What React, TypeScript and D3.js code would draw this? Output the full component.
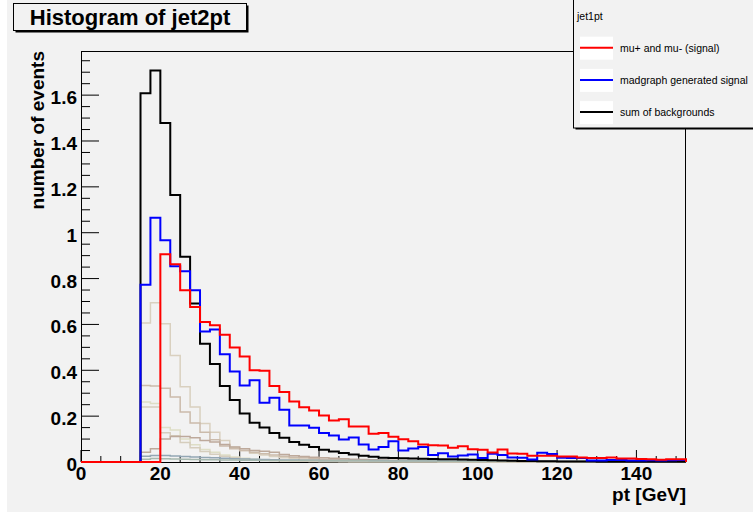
import React from "react";
import * as d3 from "d3";

// ---- data (bins of 2.5 GeV starting at 0 GeV) ----
const binWidth = 2.5;
const xMax = 152.5;
const yMax = 1.7925;

const xTickLabels = ["0", "20", "40", "60", "80", "100", "120", "140"];
const xTickValues = [0, 20, 40, 60, 80, 100, 120, 140];
const yTickLabels = ["0", "0.2", "0.4", "0.6", "0.8", "1", "1.2", "1.4", "1.6"];
const yTickValues = [0, 0.2, 0.4, 0.6, 0.8, 1.0, 1.2, 1.4, 1.6];

const redSignal = [
  0, 0, 0, 0, 0, 0, 0, 0, 0.906, 0.862, 0.749, 0.676, 0.611, 0.596, 0.555, 0.499,
  0.46, 0.4, 0.398, 0.331, 0.305, 0.264, 0.239, 0.225, 0.203, 0.181, 0.186, 0.155,
  0.155, 0.123, 0.126, 0.11, 0.099, 0.091, 0.076, 0.073, 0.072, 0.062, 0.069, 0.056,
  0.053, 0.041, 0.055, 0.037, 0.036, 0.027, 0.027, 0.027, 0.024, 0.024, 0.02, 0.017,
  0.017, 0.02, 0.015, 0.015, 0.013, 0.012, 0.01, 0.012, 0.012,
];

const blueMadgraph = [
  0, 0, 0, 0, 0, 0, 0.773, 1.065, 0.967, 0.854, 0.832, 0.749, 0.569, 0.578, 0.47, 0.395,
  0.334, 0.356, 0.258, 0.28, 0.228, 0.159, 0.159, 0.149, 0.127, 0.116, 0.098, 0.107,
  0.076, 0.055, 0.065, 0.091, 0.05, 0.059, 0.065, 0.031, 0.038, 0.024, 0.028, 0.033,
  0.017, 0.036, 0.031, 0.02, 0.019, 0.011, 0.04, 0.035, 0.019, 0.017, 0.017, 0.007,
  0.007, 0.009, 0.009, 0.006, 0.006, 0.008, 0.006, 0.008, 0.009,
];

const blackBackground = [
  0, 0, 0, 0, 0, 0, 1.608, 1.707, 1.478, 1.164, 0.895, 0.691, 0.516, 0.427, 0.331, 0.27,
  0.212, 0.171, 0.151, 0.126, 0.106, 0.087, 0.075, 0.065, 0.053, 0.046, 0.039, 0.033,
  0.027, 0.023, 0.019, 0.017, 0.016, 0.015, 0.014, 0.013, 0.012, 0.012, 0.011, 0.01,
  0.009, 0.008, 0.006, 0.005, 0.004, 0.004, 0.003, 0.003, 0.002, 0.002, 0.002, 0.002,
  0.001, 0.001, 0.001, 0.001, 0.001, 0.001, 0.001, 0.001, 0.001,
];

const bgA = [
  0, 0, 0, 0, 0, 0, 0.606, 0.695, 0.603, 0.465, 0.328, 0.24, 0.168, 0.13, 0.094, 0.064,
  0.05, 0.038, 0.03, 0.024, 0.019, 0.015, 0.012, 0.01, 0.008, 0.007, 0.006, 0.005,
  0.004, 0.003, 0.003, 0.003, 0.002, 0.002, 0.002, 0.002, 0.001, 0.001, 0.001, 0.001,
  0.001, 0.001, 0.001, 0.001, 0.001, 0.001, 0.001, 0.001, 0.001, 0.001, 0.001, 0.001,
  0.001, 0.001, 0.001, 0.001, 0.001, 0.001, 0.001, 0.001, 0.001,
];

const bgB = [
  0, 0, 0, 0, 0, 0, 0.334, 0.331, 0.322, 0.283, 0.218, 0.17, 0.13, 0.097, 0.07, 0.058,
  0.05, 0.043, 0.036, 0.03, 0.025, 0.021, 0.018, 0.015, 0.012, 0.01, 0.009, 0.008,
  0.007, 0.006, 0.005, 0.004, 0.004, 0.003, 0.003, 0.003, 0.002, 0.002, 0.002, 0.002,
  0.002, 0.001, 0.001, 0.001, 0.001, 0.001, 0.001, 0.001, 0.001, 0.001, 0.001, 0.001,
  0.001, 0.001, 0.001, 0.001, 0.001, 0.001, 0.001, 0.001, 0.001,
];

const bgC = [
  0, 0, 0, 0, 0, 0, 0.262, 0.255, 0.15, 0.14, 0.1, 0.075, 0.055, 0.042, 0.03, 0.022,
  0.016, 0.012, 0.009, 0.007, 0.005, 0.004, 0.003, 0.003, 0.002, 0.002, 0.002, 0.001,
  0.001, 0.001, 0.001, 0.001, 0.001, 0.001, 0.001, 0.001, 0.001, 0.001, 0.001, 0.001,
  0.001, 0.001, 0.001, 0.001, 0.001, 0.001, 0.001, 0.001, 0.001, 0.001, 0.001, 0.001,
  0.001, 0.001, 0.001, 0.001, 0.001, 0.001, 0.001, 0.001, 0.001,
];

const bgD = [
  0, 0, 0, 0, 0, 0, 0.24, 0.24, 0.128, 0.115, 0.085, 0.062, 0.046, 0.034, 0.025, 0.018,
  0.013, 0.01, 0.008, 0.006, 0.005, 0.004, 0.003, 0.002, 0.002, 0.002, 0.001, 0.001,
  0.001, 0.001, 0.001, 0.001, 0.001, 0.001, 0.001, 0.001, 0.001, 0.001, 0.001, 0.001,
  0.001, 0.001, 0.001, 0.001, 0.001, 0.001, 0.001, 0.001, 0.001, 0.001, 0.001, 0.001,
  0.001, 0.001, 0.001, 0.001, 0.001, 0.001, 0.001, 0.001, 0.001,
];

const bgE = [
  0, 0, 0, 0, 0, 0, 0.043, 0.058, 0.1, 0.111, 0.111, 0.106, 0.094, 0.087, 0.076, 0.065,
  0.058, 0.05, 0.047, 0.043, 0.033, 0.027, 0.024, 0.021, 0.018, 0.016, 0.014, 0.012,
  0.011, 0.01, 0.009, 0.008, 0.007, 0.006, 0.006, 0.005, 0.005, 0.004, 0.004, 0.004,
  0.003, 0.003, 0.003, 0.003, 0.002, 0.002, 0.002, 0.002, 0.002, 0.002, 0.002, 0.001,
  0.001, 0.001, 0.001, 0.001, 0.001, 0.001, 0.001, 0.001, 0.001,
];

const bgF = [
  0, 0, 0, 0, 0, 0, 0.025, 0.028, 0.028, 0.026, 0.024, 0.022, 0.02, 0.018, 0.016, 0.014,
  0.013, 0.012, 0.011, 0.01, 0.009, 0.009, 0.008, 0.008, 0.007, 0.007, 0.007, 0.006,
  0.006, 0.006, 0.006, 0.005, 0.005, 0.005, 0.005, 0.005, 0.005, 0.004, 0.004, 0.004,
  0.004, 0.004, 0.004, 0.004, 0.004, 0.003, 0.003, 0.003, 0.003, 0.003, 0.003, 0.003,
  0.003, 0.003, 0.003, 0.003, 0.003, 0.003, 0.003, 0.003, 0.003,
];

const bgG = [
  0, 0, 0, 0, 0, 0, 0.012, 0.015, 0.014, 0.013, 0.012, 0.011, 0.01, 0.01, 0.009, 0.009,
  0.008, 0.008, 0.007, 0.007, 0.007, 0.006, 0.006, 0.006, 0.005, 0.005, 0.005, 0.005,
  0.005, 0.004, 0.004, 0.004, 0.004, 0.004, 0.004, 0.004, 0.003, 0.003, 0.003, 0.003,
  0.003, 0.003, 0.003, 0.003, 0.003, 0.003, 0.002, 0.002, 0.002, 0.002, 0.002, 0.002,
  0.002, 0.002, 0.002, 0.002, 0.002, 0.002, 0.002, 0.002, 0.002,
];

const backgroundSeries = [
  { values: bgA, color: "#d9d0bf" },
  { values: bgB, color: "#cbbbab" },
  { values: bgC, color: "#dedec6" },
  { values: bgD, color: "#d5cdbd" },
  { values: bgE, color: "#bda99b" },
  { values: bgF, color: "#93a6b4" },
  { values: bgG, color: "#a6b8ae" },
];

const mainSeries = [
  { values: blackBackground, color: "#000000" },
  { values: blueMadgraph, color: "#0000ff" },
  { values: redSignal, color: "#ff0000" },
];

const legendTitle = "jet1pt";
const legendLabels = ["mu+ and mu- (signal)", "madgraph generated signal", "sum of backgrounds"];
const legendColors = ["#ff0000", "#0000ff", "#000000"];

const FONT = "'Liberation Sans', Arial, Helvetica, sans-serif";

export default function App() {
  const W = 753;
  const H = 512;
  const left = 81;
  const right = 686;
  const top = 51;
  const bottom = 462;

  const x = d3.scaleLinear().domain([0, xMax]).range([left, right]);
  const y = d3.scaleLinear().domain([0, yMax]).range([bottom, top]);

  const stepPath = (vals: number[]) => {
    const pts: [number, number][] = [[0, 0]];
    vals.forEach((v, i) => {
      pts.push([i * binWidth, v]);
      pts.push([(i + 1) * binWidth, v]);
    });
    pts.push([vals.length * binWidth, 0]);
    return d3
      .line<[number, number]>()
      .x((d) => x(d[0]))
      .y((d) => y(d[1]))(pts) as string;
  };

  const xMinor = d3.range(0, 150.001, 5);
  const yMinor = d3.range(0, 1.76, 0.05);

  return (
    <svg
      width={W}
      height={H}
      style={{ position: "absolute", left: 0, top: 0, display: "block" }}
      fontFamily={FONT}
    >
      <rect x={0} y={0} width={W} height={H} fill="#f2f2f2" />
      <rect x={0} y={0} width={7} height={H} fill="#ffffff" />

      {/* frame */}
      <rect x={left + 0.5} y={top + 0.5} width={right - left - 1} height={bottom - top} fill="none" stroke="#000" strokeWidth={1} />

      {/* x ticks */}
      {xMinor.map((v) => {
        const major = xTickValues.includes(v);
        return (
          <line key={"xt" + v} x1={x(v)} x2={x(v)} y1={bottom} y2={bottom - (major ? 12 : 6)} stroke="#000" strokeWidth={1} />
        );
      })}
      {/* y ticks */}
      {yMinor.map((v, i) => {
        const major = i % 4 === 0;
        return (
          <line key={"yt" + i} x1={left} x2={left + (major ? 18 : 9)} y1={y(v)} y2={y(v)} stroke="#000" strokeWidth={1} />
        );
      })}

      {/* histograms */}
      {backgroundSeries.map((s, i) => (
        <path key={"bg" + i} d={stepPath(s.values)} fill="none" stroke={s.color} strokeWidth={1.5} />
      ))}
      {mainSeries.map((s, i) => (
        <path key={"m" + i} d={stepPath(s.values)} fill="none" stroke={s.color} strokeWidth={2} />
      ))}

      {/* tick labels */}
      {xTickValues.map((v, i) => (
        <text key={"xl" + i} x={x(v)} y={480} textAnchor="middle" fontSize={19} fontWeight="bold" fill="#000">
          {xTickLabels[i]}
        </text>
      ))}
      {yTickValues.map((v, i) => (
        <text key={"yl" + i} x={77} y={y(v) + 9} textAnchor="end" fontSize={19} fontWeight="bold" fill="#000">
          {yTickLabels[i]}
        </text>
      ))}

      {/* axis titles */}
      <text x={right} y={501} textAnchor="end" fontSize={19} fontWeight="bold" fill="#000">
        pt [GeV]
      </text>
      <text transform={`translate(44,${top}) rotate(-90)`} textAnchor="end" fontSize={19} fontWeight="bold" fill="#000">
        number of events
      </text>

      {/* title box */}
      <rect x={15.5} y={5.5} width={233} height={27} fill="#000" />
      <rect x={13.5} y={3.5} width={233} height={27} fill="#f2f2f2" stroke="#000" strokeWidth={1} />
      <text x={130} y={25} textAnchor="middle" fontSize={22} fontWeight="bold" fill="#000">
        Histogram of jet2pt
      </text>

      {/* legend */}
      <rect x={575.5} y={1.5} width={200} height={128} fill="#000" />
      <rect x={573.5} y={-1} width={200} height={129} fill="#f2f2f2" stroke="#000" strokeWidth={1} />
      <text x={577} y={19.5} fontSize={10.5} fill="#000">
        {legendTitle}
      </text>
      {legendLabels.map((lab, i) => {
        const cy = 47.7 + i * 32.2;
        return (
          <g key={"lg" + i}>
            <rect x={580} y={cy - 11} width={33} height={23} fill="#ffffff" />
            <line x1={580} x2={613} y1={cy} y2={cy} stroke={legendColors[i]} strokeWidth={2} />
            <text x={620} y={cy + 3.8} fontSize={10.5} fill="#000">
              {lab}
            </text>
          </g>
        );
      })}
    </svg>
  );
}
